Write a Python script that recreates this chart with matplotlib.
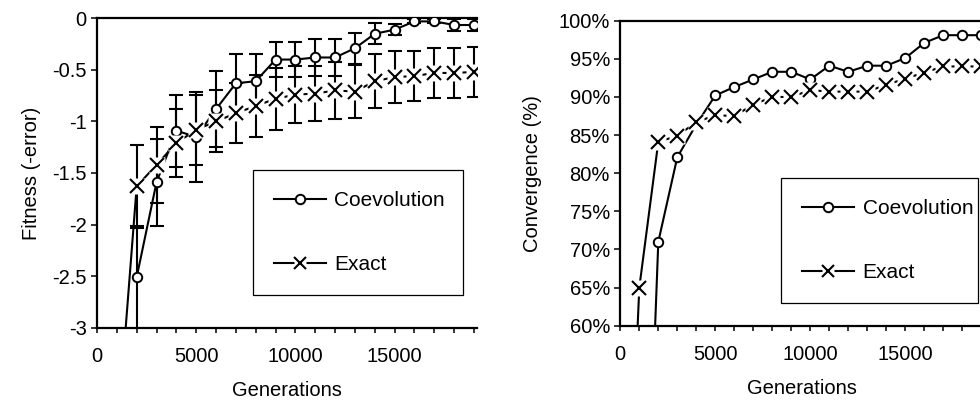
import matplotlib
matplotlib.use("Agg")
import matplotlib.pyplot as plt
from matplotlib.ticker import MultipleLocator, FuncFormatter
from matplotlib.legend_handler import HandlerTuple
from matplotlib.lines import Line2D

plt.rcParams['font.family'] = ['Liberation Sans', 'DejaVu Sans']
plt.rcParams['axes.unicode_minus'] = False

# ---- Fitness (-error) vs generations, with standard deviation bars ----
fit_gens_exact = list(range(1000, 20000, 1000))
fit_exact = [-4.10, -1.63, -1.42, -1.21, -1.08, -1.00, -0.92, -0.85, -0.78, -0.74,
             -0.73, -0.70, -0.71, -0.61, -0.57, -0.56, -0.53, -0.53, -0.52]
fit_exact_err = [0.50, 0.40, 0.37, 0.33, 0.34, 0.30, 0.29, 0.30, 0.30, 0.28,
                 0.27, 0.28, 0.26, 0.26, 0.25, 0.24, 0.24, 0.24, 0.24]

fit_gens_coev = list(range(2000, 20000, 1000))
fit_coev = [-2.51, -1.59, -1.09, -1.15, -0.88, -0.63, -0.61, -0.40, -0.40, -0.38,
            -0.38, -0.29, -0.15, -0.11, -0.03, -0.03, -0.065, -0.065]
fit_coev_err = [0.50, 0.42, 0.35, 0.44, 0.37, 0.28, 0.26, 0.17, 0.17, 0.18,
                0.18, 0.15, 0.10, 0.05, 0.02, 0.02, 0.06, 0.06]

# ---- Convergence (%) vs generations ----
conv_gens_exact = list(range(0, 20000, 1000))
conv_exact = [8.0, 65.0, 84.1, 84.9, 86.7, 87.6, 87.5, 89.0, 90.0, 90.0,
              90.9, 90.7, 90.7, 90.7, 91.6, 92.4, 93.2, 94.0, 94.0, 94.0]
conv_gens_coev = list(range(1000, 20000, 1000))
conv_coev = [5.0, 71.0, 82.1, 86.4, 90.2, 91.3, 92.3, 93.3, 93.3, 92.3,
             94.1, 93.3, 94.1, 94.1, 95.1, 97.1, 98.1, 98.1, 98.1]

W, H = 980, 403
fig = plt.figure(figsize=(W / 100, H / 100), dpi=100)

FS = 14.5
LW = 1.5


def px_axes(x0, x1, ytop, ybot):
    return fig.add_axes([x0 / W, 1 - ybot / H, (x1 - x0) / W, (ybot - ytop) / H])


def style_axes(ax):
    for side in ('left', 'bottom', 'top'):
        ax.spines[side].set_linewidth(1.6)
    ax.spines['right'].set_visible(False)
    ax.tick_params(axis='both', which='both', direction='out', width=1.1,
                   labelsize=FS, top=False, right=False)
    ax.tick_params(axis='y', which='major', length=4.5, pad=3)
    ax.tick_params(axis='x', which='both', length=3.8, pad=10)
    ax.xaxis.set_major_locator(MultipleLocator(5000))
    ax.xaxis.set_minor_locator(MultipleLocator(1000))
    ax.set_facecolor('white')


def draw_pair(ax, cx, cy, ex, ey, cerr=None, eerr=None):
    if cerr is not None:
        ax.errorbar(cx, cy, yerr=cerr, fmt='none', ecolor='black', elinewidth=LW,
                    capsize=4.8, capthick=LW, zorder=2)
        ax.errorbar(ex, ey, yerr=eerr, fmt='none', ecolor='black', elinewidth=LW,
                    capsize=4.8, capthick=LW, zorder=2)
    ax.plot(cx, cy, '-', color='black', lw=LW, marker='o', ms=6.8, mfc='white',
            mec='black', mew=1.4, zorder=3)
    ax.plot(ex, ey, '-', color='black', lw=LW, zorder=3)
    ax.plot(ex, ey, ls='none', marker='s', ms=12, mfc='white', mec='none', zorder=4)
    ax.plot(ex, ey, ls='none', marker='x', ms=10, mew=1.5, color='black', zorder=5)


def add_legend(ax, anchor, pad):
    h_coev = Line2D([], [], color='black', lw=LW, marker='o', ms=6.8, mfc='white',
                    mec='black', mew=1.4)
    h_line = Line2D([], [], color='black', lw=LW)
    h_sq = Line2D([], [], ls='none', marker='s', ms=9, mfc='white', mec='none')
    h_x = Line2D([], [], ls='none', marker='x', ms=8.5, mew=1.5, color='black')
    leg = ax.legend([h_coev, (h_line, h_sq, h_x)], ['Coevolution', 'Exact'],
                    handler_map={tuple: HandlerTuple(ndivide=1, pad=0)},
                    loc='upper left', bbox_to_anchor=anchor, mode='expand',
                    borderaxespad=0, borderpad=pad, labelspacing=2.16,
                    handlelength=2.5, handletextpad=0.4, fontsize=15,
                    fancybox=False, framealpha=1, edgecolor='black')
    leg.get_frame().set_linewidth(0.9)
    return leg


# Left panel: fitness
ax1 = px_axes(97.0, 477.0, 18.3, 327.7)
style_axes(ax1)
draw_pair(ax1, fit_gens_coev, fit_coev, fit_gens_exact, fit_exact,
          fit_coev_err, fit_exact_err)
ax1.set_xlim(0, 19150)
ax1.set_ylim(-3, 0)
ax1.yaxis.set_major_locator(MultipleLocator(0.5))
ax1.yaxis.set_major_formatter(FuncFormatter(lambda v, p: f'{v:g}'))
ax1.set_ylabel('Fitness (-error)', fontsize=FS, labelpad=8)
ax1.set_xlabel('Generations', fontsize=FS, labelpad=11)
add_legend(ax1, (0.411, 0.5097, 0.551, 0.0), 1.0)

# Right panel: convergence
ax2 = px_axes(620.3, 620.3 + 19.0 * 19.15, 20.7, 325.7)
style_axes(ax2)
draw_pair(ax2, conv_gens_coev, conv_coev, conv_gens_exact, conv_exact)
ax2.set_xlim(0, 19150)
ax2.set_ylim(60, 100)
ax2.yaxis.set_major_locator(MultipleLocator(5))
ax2.yaxis.set_major_formatter(FuncFormatter(lambda v, p: f'{v:.0f}%'))
ax2.set_ylabel('Convergence (%)', fontsize=FS, labelpad=12)
ax2.set_xlabel('Generations', fontsize=FS, labelpad=11)
add_legend(ax2, (0.4424, 0.4833, 0.540, 0.0), 1.0)

fig.savefig('out.png', dpi=100, facecolor='white')
